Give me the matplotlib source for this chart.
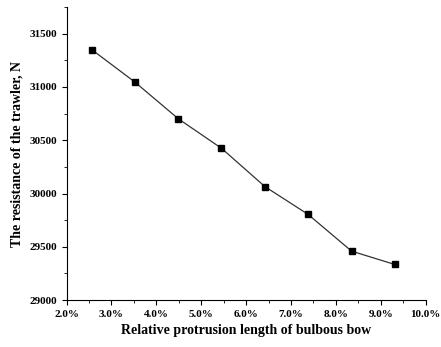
import numpy as np
import matplotlib.pyplot as plt
from matplotlib.ticker import MultipleLocator, FuncFormatter

# relative protrusion length (%) -> resistance (N)
protrusion = [2.56, 3.52, 4.49, 5.45, 6.42, 7.38, 8.35, 9.31]
resistance = [31350, 31046, 30701, 30425, 30065, 29805, 29460, 29335]

plt.rcParams['font.family'] = ['Liberation Serif', 'DejaVu Serif']
plt.rcParams['font.weight'] = 'bold'

fig = plt.figure(figsize=(4.41, 3.47), dpi=100)
ax = fig.add_axes([0.151, 0.135, 0.814, 0.845])

ax.plot(protrusion, resistance, color='#333333', lw=0.9,
        marker='s', ms=4, mfc='black', mec='black')

ax.set_xlim(2, 10)
ax.set_ylim(29000, 31750)
ax.xaxis.set_major_locator(MultipleLocator(1))
ax.xaxis.set_minor_locator(MultipleLocator(0.5))
ax.yaxis.set_major_locator(MultipleLocator(500))
ax.yaxis.set_minor_locator(MultipleLocator(250))
ax.xaxis.set_major_formatter(FuncFormatter(lambda v, p: '%.1f%%' % v))

for s in ['top', 'right']:
    ax.spines[s].set_visible(False)
ax.tick_params(which='both', direction='out', labelsize=8)
ax.tick_params(which='major', length=3.5)
ax.tick_params(which='minor', length=2)

ax.set_xlabel('Relative protrusion length of bulbous bow', fontsize=10, fontweight='bold')
ax.set_ylabel('The resistance of the trawler, N', fontsize=10, fontweight='bold')

plt.savefig('out.png', dpi=100)
